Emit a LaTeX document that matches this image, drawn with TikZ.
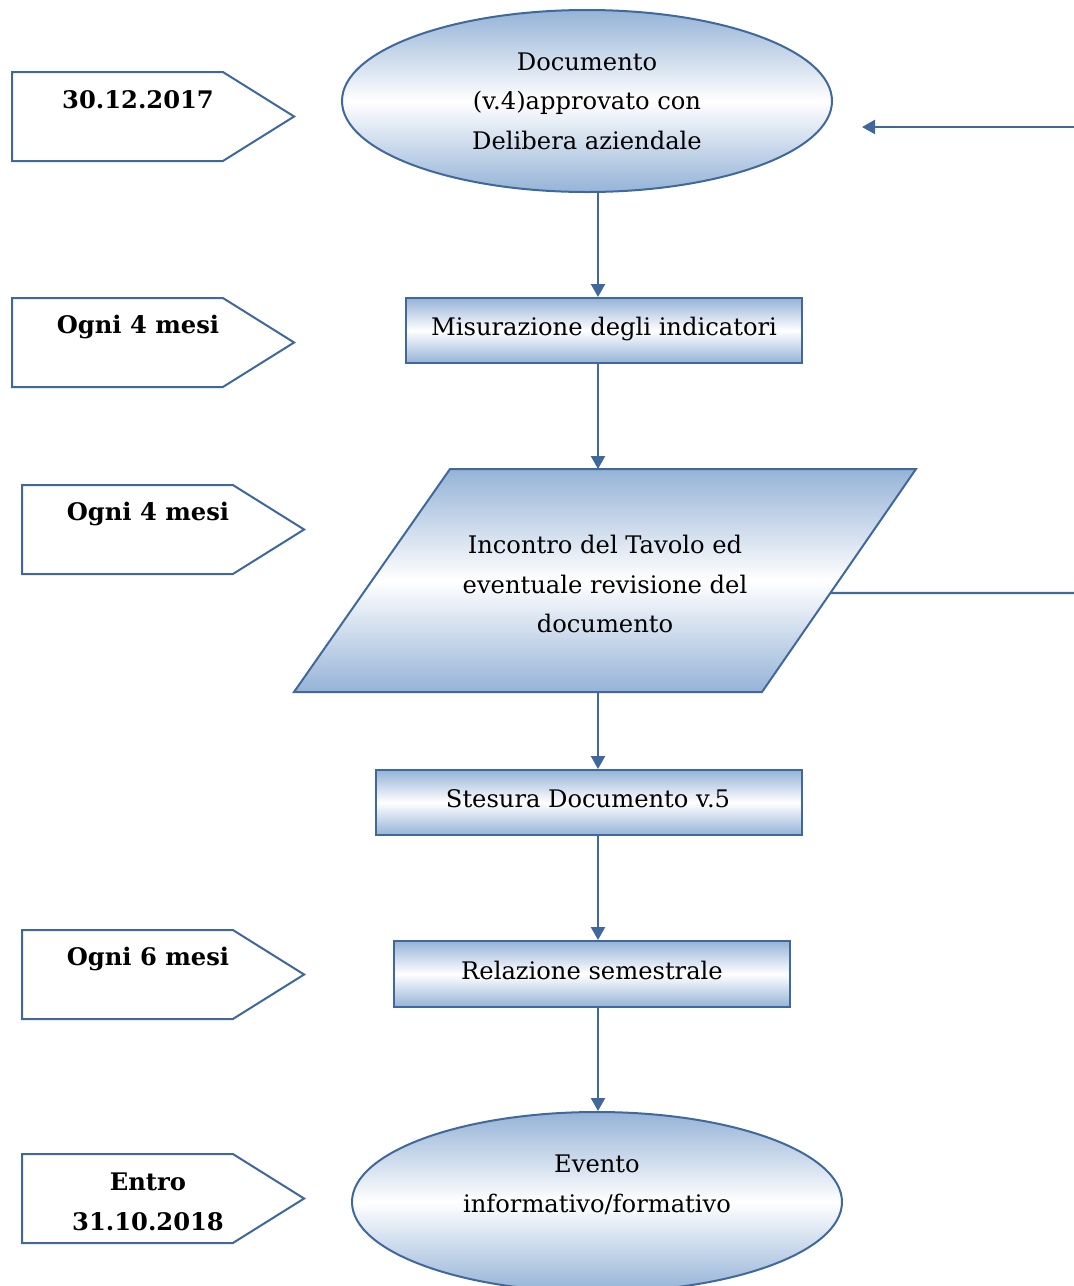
\documentclass[tikz,border=0pt]{standalone}
\usepackage{fontspec}
\setmainfont{DejaVu Serif}
\usetikzlibrary{shapes.geometric,shapes.symbols,arrows.meta,calc}
\definecolor{edge}{RGB}{64,104,156}
\definecolor{fillb}{RGB}{149,179,215}
\begin{document}
\begin{tikzpicture}[x=1pt,y=-1pt,
  shade3/.style={top color=fillb,bottom color=fillb,middle color=white,draw=edge,line width=2pt},
  txt/.style={align=center,font=\fontsize{24.2}{39.5}\selectfont,inner sep=0pt},
  tagtxt/.style={align=center,font=\bfseries\fontsize{24.2}{39.5}\selectfont,inner sep=0pt},
  tag/.style={shape=signal,signal to=east,signal pointer angle=64,draw=edge,line width=2pt,minimum width=282pt,minimum height=89pt,inner sep=0pt,fill=white},
  arr/.style={draw=edge,line width=2.4pt,-{Triangle[length=13pt,width=14pt]}},
  fb/.style={draw=edge,line width=2.2pt}]
\useasboundingbox (0,0) rectangle (1074,1286);
\coordinate (spine) at (598,0);
% main flow
\node[shade3,ellipse,minimum width=490pt,minimum height=182pt,inner sep=0pt] (e1) at (587,101) {};
\node[txt] (e1t) at (587,101) {Documento\\(v.4)approvato con\\Delibera aziendale};
\node[shade3,rectangle,minimum width=396pt,minimum height=65pt,inner sep=0pt] (b1) at (604,330.5) {};
\node[txt] (b1t) at (604,329) {Misurazione degli indicatori};
\coordinate (pTL) at (450,469);
\coordinate (pTR) at (916,469);
\coordinate (pBR) at (762,692);
\coordinate (pBL) at (294,692);
\path[shade3] (pTL) -- (pTR) -- (pBR) -- (pBL) -- cycle;
\node[txt] (part) at (605,584) {Incontro del Tavolo ed\\eventuale revisione del\\documento};
\node[shade3,rectangle,minimum width=426pt,minimum height=65pt,inner sep=0pt] (b2) at (589,802.5) {};
\node[txt] (b2t) at (588,799) {Stesura Documento v.5};
\node[shade3,rectangle,minimum width=396pt,minimum height=66pt,inner sep=0pt] (b3) at (592,974) {};
\node[txt] (b3t) at (592,970) {Relazione semestrale};
\node[shade3,ellipse,minimum width=490pt,minimum height=180pt,inner sep=0pt] (e2) at (597,1202) {};
\node[txt] (e2t) at (597,1185) {Evento\\informativo/formativo};
% connectors
\draw[arr] (e1.south -| spine) -- (b1.north -| spine);
\draw[arr] (b1.south -| spine) -- (pTL -| spine);
\draw[arr] (pBL -| spine) -- (b2.north -| spine);
\draw[arr] (b2.south -| spine) -- (b3.north -| spine);
\draw[arr] (b3.south -| spine) -- (e2.north -| spine);
% feedback
\coordinate (fbout) at ($(pTR)!0.556!(pBR)$);
\coordinate (fbedge) at (1074,593);
\coordinate (fbin) at (1074,127);
\coordinate (fbend) at (862,127);
\draw[fb] (fbout) -- (fbedge);
\draw[arr] (fbin) -- (fbend);
% tags
\node[tag] (t1) at (117.5,116.5) {};
\node[tagtxt] (t1t) at (138,100) {30.12.2017};
\node[tag] (t2) at (117.5,342.5) {};
\node[tagtxt] (t2t) at (138,327) {Ogni 4 mesi};
\node[tag] (t3) at (127.5,529.5) {};
\node[tagtxt] (t3t) at (148,514) {Ogni 4 mesi};
\node[tag] (t4) at (127.5,974.5) {};
\node[tagtxt] (t4t) at (148,959) {Ogni 6 mesi};
\node[tag] (t5) at (127.5,1198.5) {};
\node[tagtxt] (t5t) at (148,1202) {Entro\\31.10.2018};
\end{tikzpicture}
\end{document}
